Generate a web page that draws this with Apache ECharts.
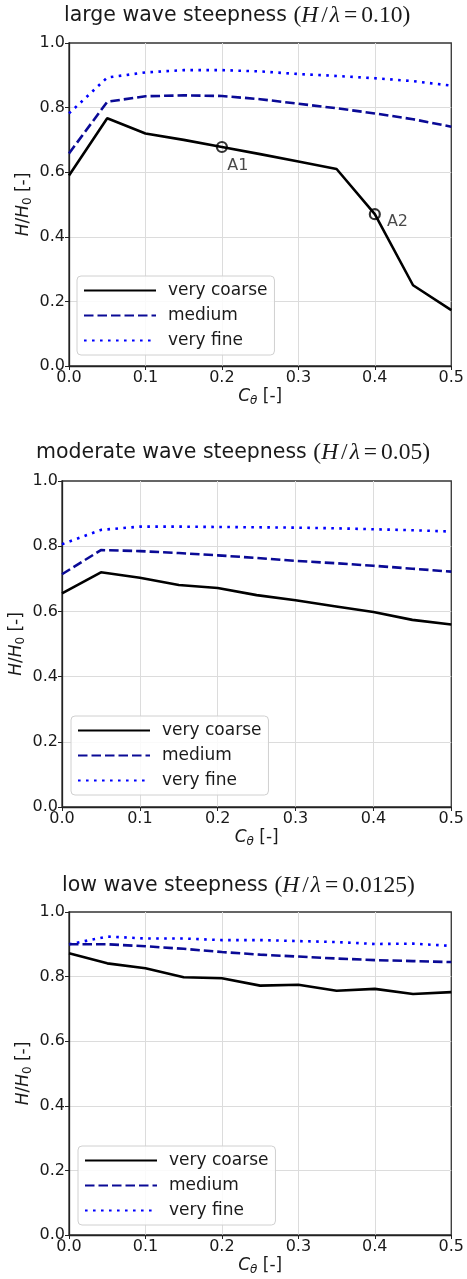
<!DOCTYPE html>
<html>
<head>
<meta charset="utf-8">
<script src="https://cdn.jsdelivr.net/npm/echarts@6/dist/echarts.min.js"></script>
<style>
  html, body { margin: 0; padding: 0; background: #fff; }
  #chart { width: 467px; height: 1279px; }
</style>
</head>
<body>
<div id="chart"></div>
<script>
// ---- data ----
const cTheta = [0.00, 0.05, 0.10, 0.15, 0.20, 0.25, 0.30, 0.35, 0.40, 0.45, 0.50];
const seriesNames = ['very coarse', 'medium', 'very fine'];

const largeCoarse = [0.59, 0.767, 0.72, 0.70, 0.678, 0.656, 0.633, 0.61, 0.47, 0.25, 0.173];
const largeMedium = [0.658, 0.818, 0.835, 0.838, 0.836, 0.826, 0.812, 0.798, 0.782, 0.764, 0.741];
const largeFine   = [0.782, 0.893, 0.909, 0.916, 0.916, 0.912, 0.904, 0.898, 0.891, 0.882, 0.868];

const moderateCoarse = [0.655, 0.72, 0.703, 0.681, 0.672, 0.65, 0.634, 0.616, 0.598, 0.574, 0.560];
const moderateMedium = [0.714, 0.788, 0.785, 0.779, 0.772, 0.764, 0.755, 0.748, 0.740, 0.731, 0.722];
const moderateFine   = [0.806, 0.850, 0.860, 0.860, 0.859, 0.858, 0.857, 0.855, 0.852, 0.849, 0.845];

const lowCoarse = [0.872, 0.841, 0.826, 0.798, 0.795, 0.772, 0.775, 0.756, 0.762, 0.746, 0.752];
const lowMedium = [0.900, 0.900, 0.894, 0.886, 0.876, 0.868, 0.862, 0.856, 0.851, 0.848, 0.845];
const lowFine   = [0.900, 0.924, 0.918, 0.918, 0.913, 0.913, 0.910, 0.907, 0.901, 0.902, 0.895];

const annotLabels = ['A1', 'A2'];
const annotX = [0.20, 0.40];
const annotY = [0.678, 0.47];

const panelTitles = [
  { text: 'large wave steepness ', value: '0.10' },
  { text: 'moderate wave steepness ', value: '0.05' },
  { text: 'low wave steepness ', value: '0.0125' }
];
const xTickLabels = ['0.0', '0.1', '0.2', '0.3', '0.4', '0.5'];
const yTickLabels = ['0.0', '0.2', '0.4', '0.6', '0.8', '1.0'];

// ---- layout / style ----
const grids = [
  { left: 69, right: 12, top: 43, height: 323 },
  { left: 62, right: 14, top: 481, height: 326 },
  { left: 69, right: 11, top: 912, height: 323 }
];
const titlePos = [{ left: 64, top: 4 }, { left: 36, top: 441 }, { left: 62, top: 874 }];
const legendPos = [{ left: 77, top: 276 }, { left: 71, top: 716 }, { left: 78, top: 1146 }];

const styles = [
  { color: '#000000', type: 'solid' },
  { color: '#0a0a96', type: [9.5, 4] },
  { color: '#0000ff', type: [2.6, 5.4] }
];

const FONT = 'DejaVu Sans';
const SERIF = 'Liberation Serif';
const TXT = '#1a1a1a';

function zip(xs, ys) { return xs.map((x, i) => [x, ys[i]]); }

const panelData = [
  [largeCoarse, largeMedium, largeFine],
  [moderateCoarse, moderateMedium, moderateFine],
  [lowCoarse, lowMedium, lowFine]
];

const option = {
  animation: false,
  backgroundColor: '#ffffff',
  title: panelTitles.map((t, i) => ({
    text: '{a|' + t.text + '}{b|(}{i|H}{s|/}{i|λ}{e|=}{b|' + t.value + ')}',
    left: titlePos[i].left,
    top: titlePos[i].top,
    padding: 0,
    textStyle: {
      fontWeight: 'normal',
      rich: {
        a: { fontFamily: FONT, fontSize: 20.5, fontWeight: 'normal', color: TXT },
        b: { fontFamily: SERIF, fontSize: 23.5, fontWeight: 'normal', color: TXT },
        s: { fontFamily: SERIF, fontSize: 23.5, fontWeight: 'normal', color: TXT, padding: [0, 2, 0, 3] },
        e: { fontFamily: SERIF, fontSize: 23.5, fontWeight: 'normal', color: TXT, padding: [0, 4, 0, 4] },
        i: { fontFamily: SERIF, fontSize: 23.5, fontWeight: 'normal', fontStyle: 'italic', color: TXT }
      }
    }
  })),
  grid: grids.map(g => Object.assign({
    show: true, borderColor: '#333', borderWidth: 1.3, backgroundColor: 'transparent', containLabel: false
  }, g)),
  legend: legendPos.map(p => ({
    data: seriesNames,
    orient: 'vertical',
    left: p.left,
    top: p.top,
    padding: [6, 7, 6, 6],
    itemGap: 8,
    itemWidth: 72,
    itemHeight: 17,
    itemStyle: { opacity: 0 },
    backgroundColor: 'rgba(255,255,255,0.85)',
    borderColor: '#d0d0d0',
    borderWidth: 1,
    borderRadius: 4,
    textStyle: { fontFamily: FONT, fontSize: 17, color: TXT, padding: [0, 0, 0, 7], lineHeight: 17 }
  })),
  xAxis: grids.map((g, i) => ({
    type: 'value',
    gridIndex: i,
    min: 0, max: 0.5, interval: 0.1,
    name: '{i|C}{s|θ}{n| [-]}',
    nameLocation: 'middle',
    nameMoveOverlap: false,
    nameGap: 21,
    nameTextStyle: {
      rich: {
        i: { fontFamily: FONT, fontSize: 17, fontStyle: 'italic', color: TXT },
        s: { fontFamily: FONT, fontSize: 12, fontStyle: 'italic', color: TXT, padding: [8, 0, 0, 0] },
        n: { fontFamily: FONT, fontSize: 17, color: TXT }
      }
    },
    axisLine: { show: true, lineStyle: { color: '#222', width: 1.3 } },
    axisTick: { show: true, length: 4, lineStyle: { color: '#222' } },
    axisLabel: {
      fontFamily: FONT, fontSize: 16, color: TXT, margin: 4,
      formatter: v => xTickLabels[Math.round(v * 10)]
    },
    splitLine: { show: true, showMinLine: false, showMaxLine: false, lineStyle: { color: '#dcdcdc', width: 1 } }
  })),
  yAxis: grids.map((g, i) => ({
    type: 'value',
    gridIndex: i,
    min: 0, max: 1, interval: 0.2,
    name: '{i|H}{n|/}{i|H}{s|0}{n| [-]}',
    nameLocation: 'middle',
    nameMoveOverlap: false,
    nameGap: 35,
    nameTextStyle: {
      rich: {
        i: { fontFamily: FONT, fontSize: 17, fontStyle: 'italic', color: TXT },
        s: { fontFamily: FONT, fontSize: 12, color: TXT, padding: [8, 0, 0, 0] },
        n: { fontFamily: FONT, fontSize: 17, color: TXT }
      }
    },
    axisLine: { show: true, lineStyle: { color: '#222', width: 1.3 } },
    axisTick: { show: true, length: 4, lineStyle: { color: '#222' } },
    axisLabel: {
      fontFamily: FONT, fontSize: 16, color: TXT, margin: 4,
      formatter: v => yTickLabels[Math.round(v * 5)]
    },
    splitLine: { show: true, showMinLine: false, showMaxLine: false, lineStyle: { color: '#dcdcdc', width: 1 } }
  })),
  series: []
};

panelData.forEach((arrs, p) => {
  arrs.forEach((ys, k) => {
    option.series.push({
      name: seriesNames[k],
      type: 'line',
      xAxisIndex: p,
      yAxisIndex: p,
      data: zip(cTheta, ys),
      symbol: 'none',
      showSymbol: false,
      color: styles[k].color,
      lineStyle: { color: styles[k].color, width: 2.6, type: styles[k].type },
      z: 5 - k
    });
  });
});

option.series.push({
  name: 'annotations',
  type: 'scatter',
  xAxisIndex: 0,
  yAxisIndex: 0,
  symbol: 'circle',
  symbolSize: 10,
  itemStyle: { color: 'rgba(0,0,0,0)', borderColor: '#000', borderWidth: 2.2 },
  z: 10,
  data: annotX.map((x, i) => ({
    value: [x, annotY[i]],
    label: i === 0
      ? { show: true, formatter: annotLabels[i], position: 'bottom', distance: 5, offset: [16, 0], fontFamily: FONT, fontSize: 16, color: TXT }
      : { show: true, formatter: annotLabels[i], position: 'right', distance: 6, offset: [0, 8], fontFamily: FONT, fontSize: 16, color: TXT }
  }))
});

const chart = echarts.init(document.getElementById('chart'), null, { renderer: 'canvas' });
chart.setOption(option);
</script>
</body>
</html>
